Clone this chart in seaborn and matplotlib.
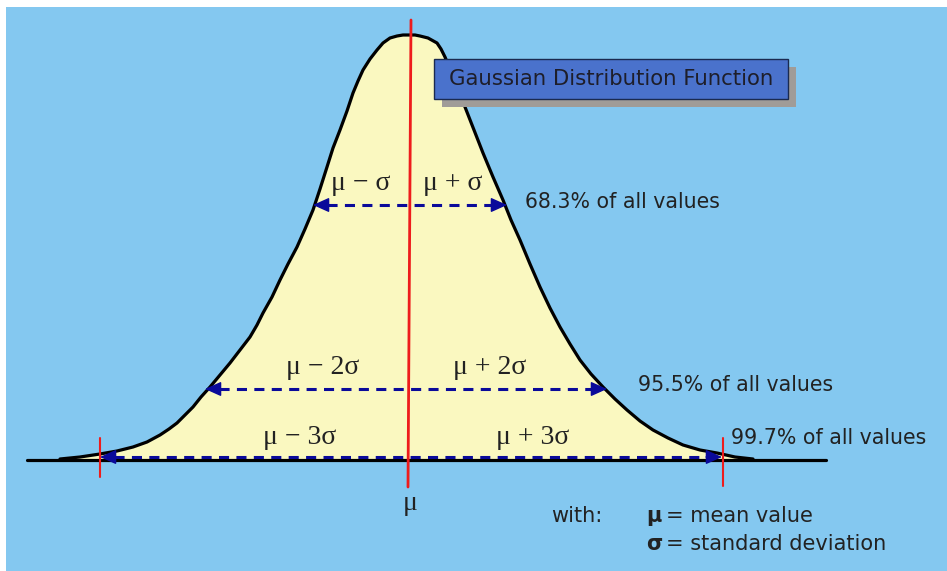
import numpy as np
import pandas as pd
import seaborn as sns
import matplotlib.pyplot as plt
from matplotlib.patches import Rectangle

# curve outline (pixel coords, y grows downward)
curve_x = [60, 80, 100, 117, 133, 147, 160, 169, 177, 185, 193, 201, 210, 220, 230,
           240, 250, 257, 263, 272, 280, 288, 297, 305, 313, 320, 327, 333, 340, 347,
           353, 358, 363, 370, 377, 383, 390, 397, 403, 410,
           415, 420, 428, 437, 441, 445, 450, 455, 460, 465, 474, 483, 493, 503, 511,
           520, 530, 540, 550, 560, 570, 580, 591, 603, 615, 627, 640, 653, 668, 683,
           700, 717, 735, 753]
curve_y = [459, 457, 454, 451, 447, 442, 435, 429, 423, 415, 407, 397, 387, 375, 363,
           350, 337, 325, 313, 297, 280, 264, 247, 229, 210, 189, 167, 148, 130, 111,
           93, 81, 70, 59, 50, 43, 38, 36, 35, 35,
           35, 36, 38, 43, 49, 57, 69, 82, 94, 107, 130, 153, 177, 200, 220,
           240, 264, 287, 308, 327, 344, 360, 374, 387, 399, 410, 421, 430, 438, 445,
           450, 453, 457, 459]

baseline_y = 460
mean_x = 410

# dashed ranges: (y, left, right)
range_y = [205, 389, 457]
range_left = [313, 205, 100]
range_right = [507, 607, 722]
range_text = ["68.3% of all values", "95.5% of all values", "99.7% of all values"]
range_text_x = [525, 638, 731]
range_text_y = [202, 385, 438]

lo_labels = ["\u03bc \u2212 \u03c3", "\u03bc \u2212 2\u03c3", "\u03bc \u2212 3\u03c3"]
hi_labels = ["\u03bc + \u03c3", "\u03bc + 2\u03c3", "\u03bc + 3\u03c3"]
lo_label_x = [361, 323, 300]
hi_label_x = [453, 490, 533]
label_y = [184, 368, 437]

sns.set_style("white")
plt.rcParams['font.family'] = ['DejaVu Sans']

fig = plt.figure(figsize=(9.47, 5.71), dpi=100)
ax = fig.add_axes([0, 0, 1, 1])
ax.set_xlim(0, 947)
ax.set_ylim(571, 0)
ax.axis('off')

bg = "#84C8F0"
ax.add_patch(Rectangle((6, 7), 941, 564, facecolor=bg, edgecolor='none', zorder=0))

curve = pd.DataFrame({"x": curve_x, "y": curve_y})
ax.fill_between(curve_x, curve_y, baseline_y, color="#FAF8C0", zorder=1)
sns.lineplot(data=curve, x="x", y="y", sort=False, color="black", lw=2.3, ax=ax, zorder=3,
             solid_joinstyle="round")
ax.plot([27, 826], [baseline_y, baseline_y], color="black", lw=2.3, zorder=3)

navy = "#0A0A9A"
for y, l, r in zip(range_y, range_left, range_right):
    ax.plot([l + 14, r - 14], [y, y], color=navy, lw=2.2, dashes=(3.3, 2.4), zorder=4)
    for tip, d in [(l, 1), (r, -1)]:
        ax.annotate("", xy=(tip, y), xytext=(tip + d * 16, y),
                    arrowprops=dict(arrowstyle="-|>,head_length=1.0,head_width=0.45",
                                    color=navy, lw=1, shrinkA=0, shrinkB=0), zorder=5)

red = "#EE1C1C"
ax.plot([411, 408], [20, 487], color=red, lw=2, zorder=6)
ax.plot([100, 100], [438, 477], color=red, lw=1.5, zorder=6)
ax.plot([723, 723], [438, 486], color=red, lw=1.5, zorder=6)

serif = dict(family="Liberation Serif", fontsize=20, color="#222222", ha="center", va="center")
for t, x, y in zip(lo_labels, lo_label_x, label_y):
    ax.text(x, y, t, **serif)
for t, x, y in zip(hi_labels, hi_label_x, label_y):
    ax.text(x, y, t, **serif)
ax.text(mean_x, 504, "\u03bc", **serif)

for t, x, y in zip(range_text, range_text_x, range_text_y):
    ax.text(x, y, t, fontsize=14.8, color="#222222", ha="left", va="center")

# title box with shadow
ax.add_patch(Rectangle((442, 67), 354, 40, facecolor="#A09C98", edgecolor='none', zorder=7))
ax.add_patch(Rectangle((434, 59), 354, 40, facecolor="#4A72CC", edgecolor="#1A2A50", lw=1, zorder=8))
ax.text(611, 79, "Gaussian Distribution Function", fontsize=15.3, color="#1E1E2A",
        ha="center", va="center", zorder=9)

ax.text(551, 516, "with:", fontsize=15, color="#222222", ha="left", va="center")
ax.text(646, 516, "\u03bc", fontsize=15, fontweight="bold", color="#222222", ha="left", va="center")
ax.text(666, 516, "= mean value", fontsize=15, color="#222222", ha="left", va="center")
ax.text(646, 544, "\u03c3", fontsize=15, fontweight="bold", color="#222222", ha="left", va="center")
ax.text(666, 544, "= standard deviation", fontsize=15, color="#222222", ha="left", va="center")

fig.savefig("out.png", dpi=100, facecolor="white")
